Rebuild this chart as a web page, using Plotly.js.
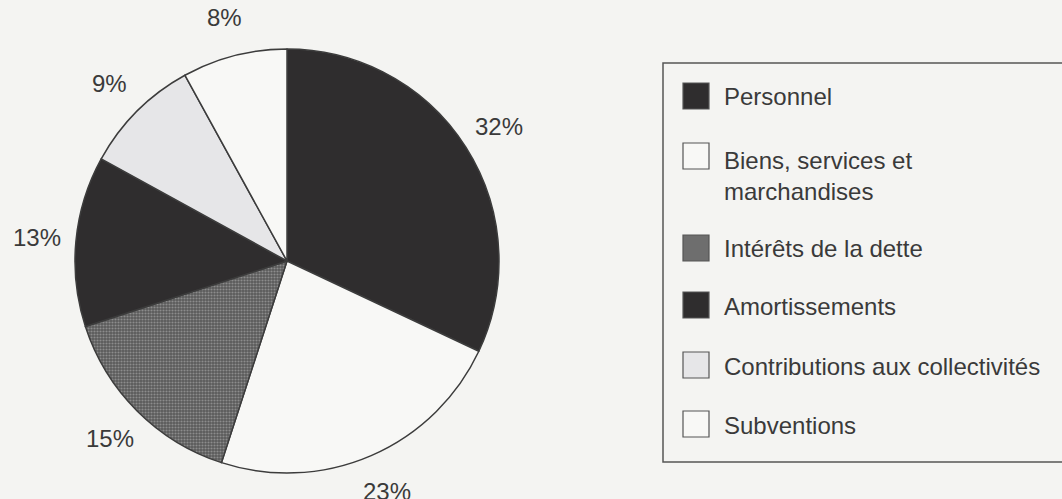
<!DOCTYPE html>
<html>
<head>
<meta charset="utf-8">
<script src="https://cdn.plot.ly/plotly-3.0.1.min.js"></script>
<style>
  html, body { margin: 0; padding: 0; background: #f4f4f2; }
  #chart { width: 1062px; height: 499px; }
</style>
</head>
<body>
<div id="chart"></div>
<script>
// ---- data ----
const categories = [
  "Personnel",
  "Biens, services et<br>marchandises",
  "Intérêts de la dette",
  "Amortissements",
  "Contributions aux collectivités",
  "Subventions"
];
const values = [32, 23, 15, 13, 9, 8];
const percentLabels = ["32%", "23%", "15%", "13%", "9%", "8%"];
const sliceColors = ["#2f2d2e", "#f8f8f6", "#5a5a5a", "#2f2d2e", "#e6e6e8", "#f8f8f6"];
const patternShapes = ["", "", ".", "", "", ""];

// ---- layout constants (pixels) ----
const W = 1062, H = 499;
const CX = 287, CY = 261, R = 212;
const LABEL_R = 251;
const FONT = "Liberation Sans, Arial, Helvetica, sans-serif";
const TEXT_COLOR = "#3a3a3a";
const LINE_COLOR = "#3c3c3c";

const pie = {
  type: "pie",
  labels: categories,
  values: values,
  sort: false,
  direction: "clockwise",
  rotation: 0,
  textinfo: "none",
  hoverinfo: "label+percent",
  showlegend: false,
  marker: {
    colors: sliceColors,
    line: { color: LINE_COLOR, width: 1.5 },
    pattern: {
      shape: patternShapes,
      bgcolor: sliceColors,
      fgcolor: "#8c8c8c",
      size: 3,
      solidity: 0.4
    }
  },
  domain: {
    x: [(CX - R) / W, (CX + R) / W],
    y: [(H - CY - R) / H, (H - CY + R) / H]
  }
};

// percentage labels around the pie, at each slice's mid angle
const total = values.reduce((a, b) => a + b, 0);
const annotations = [];
let cum = 0;
values.forEach((v, i) => {
  const mid = (cum + v / 2) / total * 2 * Math.PI;
  cum += v;
  const px = CX + LABEL_R * Math.sin(mid);
  const py = CY - LABEL_R * Math.cos(mid);
  annotations.push({
    xref: "paper", yref: "paper",
    x: px / W, y: 1 - py / H,
    xanchor: "center", yanchor: "middle",
    text: percentLabels[i],
    showarrow: false,
    font: { family: FONT, size: 24, color: TEXT_COLOR }
  });
});

// custom legend box
const shapes = [{
  type: "rect", xref: "paper", yref: "paper",
  x0: 663 / W, x1: 1075 / W,
  y0: 1 - 462 / H, y1: 1 - 63 / H,
  line: { color: "#555555", width: 1.5 },
  fillcolor: "rgba(0,0,0,0)"
}];
const swatchTops = [83, 143, 235, 292, 352, 411];
const SW = 26, SX = 683, TX = 722;
categories.forEach((c, i) => {
  const top = swatchTops[i];
  shapes.push({
    type: "rect", xref: "paper", yref: "paper",
    x0: SX / W, x1: (SX + SW) / W,
    y0: 1 - (top + SW) / H, y1: 1 - top / H,
    line: { color: "#555555", width: 1.2 },
    fillcolor: patternShapes[i] ? "#6e6e6e" : sliceColors[i]
  });
  const twoLine = c.indexOf("<br>") >= 0;
  annotations.push({
    xref: "paper", yref: "paper",
    x: TX / W,
    y: 1 - (twoLine ? top + 33 : top + SW / 2 + 1) / H,
    xanchor: "left", yanchor: "middle", align: "left",
    text: c,
    showarrow: false,
    font: { family: FONT, size: 24, color: TEXT_COLOR }
  });
});

const layout = {
  width: W, height: H,
  margin: { l: 0, r: 0, t: 0, b: 0 },
  paper_bgcolor: "#f4f4f2",
  plot_bgcolor: "#f4f4f2",
  showlegend: false,
  font: { family: FONT, color: TEXT_COLOR },
  annotations: annotations,
  shapes: shapes
};

Plotly.newPlot("chart", [pie], layout, { displayModeBar: false, staticPlot: true });
</script>
</body>
</html>
